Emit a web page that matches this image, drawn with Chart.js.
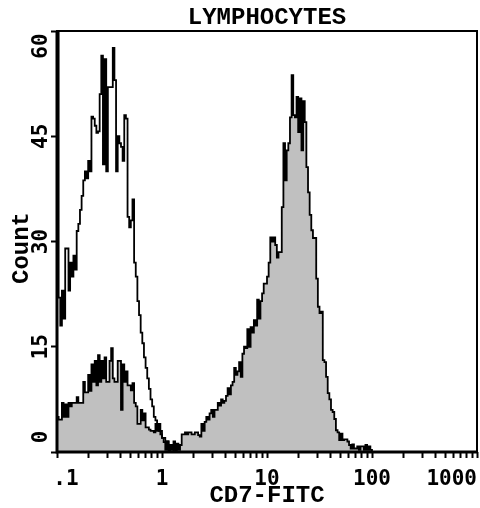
<!DOCTYPE html>
<html>
<head>
<meta charset="utf-8">
<script src="https://cdn.jsdelivr.net/npm/chart.js@4.4.0/dist/chart.umd.min.js"></script>
<style>
  body { margin: 0; background: #fff; }
  canvas { display: block; }
</style>
</head>
<body>
<canvas id="histo" width="480" height="508"></canvas>
<script>
var chartTitle = 'LYMPHOCYTES';
var xTitle = 'CD7-FITC';
var yTitle = 'Count';

// log channels, 64 per decade, channel 0 = .1
var firstChannelValue = 0.1;
var channelsPerDecade = 64;

var xDecades = [0.1, 1, 10, 100, 1000];
var xDecadeLabels = ['.1', '1', '10', '100', '1000'];
var xMinorSteps = [2, 3, 4, 5, 6, 7, 8, 9];
var yTicks = [0, 15, 30, 45, 60];
var yTickLabels = ['0', '15', '30', '45', '60'];

// unfilled histogram (control), counts per channel
var controlCounts = [
  70, 22, 18, 23, 19, 29, 29, 23, 27, 25,
  28, 26, 31.5, 32.5, 34.5, 36.5, 38.7, 40, 39, 41.5,
  40, 47.8, 47.5, 46.5, 45.5, 45.7, 51, 56.5, 41, 56,
  40, 52, 52, 52, 57.6, 53, 40, 45, 44, 43.5,
  41.5, 48, 47.5, 33.5, 32, 33, 36, 27, 25, 21.5,
  19.5, 17, 15.5, 13.5, 12, 10.5, 9, 7.5, 6.5, 5,
  4.5, 3.5, 3, 2.5, 2, 2, 1.5, 1.5, 1, 0.5,
  1, 0
];

// grey histogram (CD7-FITC), counts per channel
var cd7Counts = [
  5, 4.6, 4.6, 7, 5, 6.8, 5, 7, 6.5, 7,
  7, 7, 7.8, 7, 7, 7, 10, 8.5, 8.5, 11,
  8.7, 12.5, 10, 13, 9.5, 13.8, 10, 13, 10.5, 13.5,
  10, 10, 13, 14.8, 10.5, 10, 10, 13, 13, 6,
  12.5, 10, 11.5, 9.5, 9.5, 8.8, 9.8, 7, 6.5, 4,
  4, 6, 4.5, 5.5, 3.5, 3.5, 3.2, 3, 3, 2.8,
  4, 3, 4, 3, 2, 1.4, 0.3, 1.5, 0, 1,
  0.3, 1.5, 0, 1.2, 0.3, 1, 2.5, 2.5, 2.8, 2.5,
  2.8, 2.8, 2.5, 2.5, 2.8, 2.8, 2.4, 2.2, 4, 3,
  4.3, 5, 4.6, 5.5, 6, 5, 6, 6, 7, 6.6,
  7.5, 7, 7.3, 8, 9.1, 8.2, 9.5, 10, 12, 11,
  11.5, 12.8, 10.7, 14, 15, 14.8, 17.5, 15, 17.8, 17,
  18.8, 18, 21.7, 19, 21.5, 22.6, 24, 24, 25, 27,
  30.6, 30, 30.6, 29.5, 27.7, 28.5, 28.5, 34.9, 44, 38.7,
  43, 44, 47.7, 53.7, 48, 47.7, 50.6, 45.6, 50.4, 43,
  50, 47, 40.6, 37, 33.8, 31.6, 30.5, 30.5, 24.7, 20.7,
  19.8, 20, 13.1, 12.8, 10.7, 8.4, 7.5, 6, 5.7, 4.7,
  3.1, 2.8, 1.7, 2.6, 1.7, 1.8, 1.8, 1.5, 1, 0.5,
  1.1, 0.5, 0.5, 0.8, 0.3, 0.8, 0.8, 0.3, 1, 0.3,
  0.8, 0.3, 0
];

function toPoints(counts) {
  var pts = [];
  for (var i = 0; i <= counts.length; i++) {
    pts.push({
      x: firstChannelValue * Math.pow(10, i / channelsPerDecade),
      y: i < counts.length ? counts[i] : 0
    });
  }
  return pts;
}

function logTickValues() {
  var vals = [];
  xDecades.forEach(function (d, i) {
    vals.push(d);
    if (i < xDecades.length - 1) {
      xMinorSteps.forEach(function (m) { vals.push(d * m); });
    }
  });
  return vals;
}

var monoBold = 'bold 24px "Liberation Mono"';
var tickFont = 'bold 21px "DejaVu Sans Mono"';

var textPlugin = {
  id: 'facsText',
  afterDraw: function (chart) {
    var ctx = chart.ctx;
    var area = chart.chartArea;
    var xs = chart.scales.x;
    var ys = chart.scales.y;
    ctx.save();

    // frame
    ctx.strokeStyle = '#000';
    ctx.lineWidth = 2;
    ctx.strokeRect(area.left, area.top, area.right - area.left, area.bottom - area.top);
    ctx.lineWidth = 3;
    ctx.beginPath();
    ctx.moveTo(area.left, area.top);
    ctx.lineTo(area.left, area.bottom);
    ctx.lineTo(area.right, area.bottom);
    ctx.stroke();

    ctx.fillStyle = '#000';
    ctx.font = monoBold;
    ctx.textAlign = 'center';
    ctx.textBaseline = 'alphabetic';
    var midX = (area.left + area.right) / 2;
    ctx.fillText(chartTitle, midX, 24);
    ctx.fillText(xTitle, midX, 502);

    ctx.save();
    ctx.translate(28, 248);
    ctx.rotate(-Math.PI / 2);
    ctx.fillText(yTitle, 0, 0);
    ctx.restore();

    // x tick labels
    ctx.font = tickFont;
    xDecades.forEach(function (v, i) {
      var px = xs.getPixelForValue(v);
      if (i === 0) {
        ctx.textAlign = 'center';
        px += 9;
      } else if (i === xDecades.length - 1) {
        ctx.textAlign = 'right';
      } else {
        ctx.textAlign = 'center';
      }
      ctx.fillText(xDecadeLabels[i], px, 485);
    });

    // y tick labels, rotated
    ctx.textAlign = 'center';
    yTicks.forEach(function (v, i) {
      var py = ys.getPixelForValue(v);
      if (i === 0) py -= 15;
      if (i === yTicks.length - 1) py += 15;
      ctx.save();
      ctx.translate(47, py);
      ctx.rotate(-Math.PI / 2);
      ctx.fillText(yTickLabels[i], 0, 0);
      ctx.restore();
    });

    ctx.restore();
  }
};

var histoChart = new Chart(
  document.getElementById('histo').getContext('2d'),
  {
    type: 'line',
    data: {
      datasets: [{
        label: 'control',
        data: toPoints(controlCounts),
        stepped: 'before',
        borderColor: '#000',
        borderWidth: 1.8,
        pointRadius: 0,
        fill: false,
        order: 0
      }, {
        label: 'CD7',
        data: toPoints(cd7Counts),
        stepped: 'before',
        borderColor: '#000',
        borderWidth: 1.8,
        backgroundColor: '#c0c0c0',
        pointRadius: 0,
        fill: 'origin',
        order: 1
      }]
    },
    options: {
      responsive: false,
      animation: false,
      devicePixelRatio: 1,
      layout: { padding: { left: 51, right: 3, top: 31, bottom: 50 } },
      plugins: {
        legend: { display: false },
        tooltip: { enabled: false },
        title: { display: false }
      },
      scales: {
        x: {
          type: 'logarithmic',
          min: 0.1,
          max: 1000,
          afterBuildTicks: function (scale) {
            scale.ticks = logTickValues().map(function (v) { return { value: v }; });
          },
          ticks: { display: false },
          grid: { drawOnChartArea: false, tickLength: 6, tickWidth: 2, color: '#000' },
          border: { display: false }
        },
        y: {
          type: 'linear',
          min: 0,
          max: 60,
          ticks: { display: false, stepSize: 15 },
          grid: { drawOnChartArea: false, tickLength: 6, tickWidth: 2, color: '#000' },
          border: { display: false }
        }
      }
    },
    plugins: [textPlugin]
  }
);
</script>
</body>
</html>
